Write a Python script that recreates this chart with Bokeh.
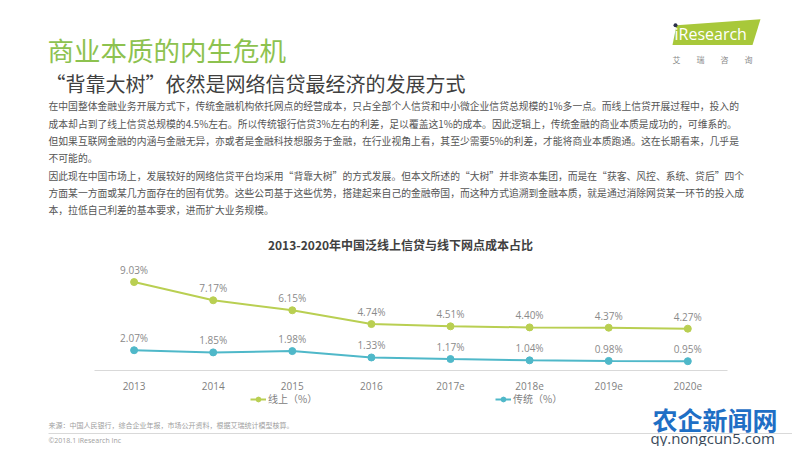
import numpy as np
from bokeh.plotting import figure
from bokeh.layouts import column
from bokeh.models import (Range1d, LabelSet, ColumnDataSource, Legend, LegendItem,
                          FixedTicker)
from bokeh.core.properties import value
from bokeh.embed import file_html
from bokeh.resources import INLINE

# ---------------- data ----------------
years = ["2013", "2014", "2015", "2016", "2017e", "2018e", "2019e", "2020e"]
online = [9.03, 7.17, 6.15, 4.74, 4.51, 4.40, 4.37, 4.27]
traditional = [2.07, 1.85, 1.98, 1.33, 1.17, 1.04, 0.98, 0.95]
online_labels = ["9.03%", "7.17%", "6.15%", "4.74%", "4.51%", "4.40%", "4.37%", "4.27%"]
traditional_labels = ["2.07%", "1.85%", "1.98%", "1.33%", "1.17%", "1.04%", "0.98%", "0.95%"]
series_names = ["线上（%）", "传统（%）"]

slide_title = "商业本质的内生危机"
slide_subtitle = "“背靠大树”依然是网络信贷最经济的发展方式"
chart_title = "2013-2020年中国泛线上信贷与线下网点成本占比"
paragraph = [
    "在中国整体金融业务开展方式下，传统金融机构依托网点的经营成本，只占全部个人信贷和中小微企业信贷总规模的1%多一点。而线上信贷开展过程中，投入的",
    "成本却占到了线上信贷总规模的4.5%左右。所以传统银行信贷3%左右的利差，足以覆盖这1%的成本。因此逻辑上，传统金融的商业本质是成功的，可维系的。",
    "但如果互联网金融的内涵与金融无异，亦或者是金融科技想服务于金融，在行业视角上看，其至少需要5%的利差，才能将商业本质跑通。这在长期看来，几乎是",
    "不可能的。",
    "因此现在中国市场上，发展较好的网络信贷平台均采用“背靠大树”的方式发展。但本文所述的“大树”并非资本集团，而是在“获客、风控、系统、贷后”四个",
    "方面某一方面或某几方面存在的固有优势。这些公司基于这些优势，搭建起来自己的金融帝国，而这种方式追溯到金融本质，就是通过消除网贷某一环节的投入成",
    "本，拉低自己利差的基本要求，进而扩大业务规模。",
]
source_text = "来源：中国人民银行，综合企业年报，市场公开资料，根据艾瑞统计模型核算。"
copyright_text = "©2018.1 iResearch Inc"
logo_text = "iResearch"
logo_cn = "艾　　瑞　　咨　　询"
watermark = "农企新闻网"
watermark_url = "qy.nongcun5.com"

GREEN = "#b9cf52"
BLUE = "#4fb8c9"
CJK = "Noto Sans CJK SC"
W = 792
AXIS_Y, CHART_END, PAGE_END = 374, 392, 446
X0, DX = 133.6, 79.1      # page x of the first category centre, px per category
PX_PER_PCT = 9.9

x_idx = list(range(len(years)))

# ---------------- main figure: header + chart ----------------
p = figure(width=W, height=CHART_END,
           x_range=Range1d(-X0 / DX, (W - X0) / DX),
           y_range=Range1d(0, AXIS_Y / PX_PER_PCT),
           output_backend="svg", toolbar_location=None,
           min_border_left=0, min_border_right=0, min_border_top=0,
           min_border_bottom=CHART_END - AXIS_Y)
p.extra_x_ranges = {"px": Range1d(0, W)}
p.extra_y_ranges = {"px": Range1d(AXIS_Y, 0)}
p.outline_line_color = None
p.xgrid.visible = False
p.ygrid.visible = False
p.yaxis.visible = False
ax = p.xaxis[0]
ax.ticker = FixedTicker(ticks=x_idx)
ax.major_label_overrides = {i: y for i, y in zip(x_idx, years)}
ax.bounds = (-0.5, len(years) - 0.5)
ax.axis_line_color = "#d9d9d9"
ax.major_tick_line_color = None
ax.minor_tick_line_color = None
ax.major_label_text_font_size = "10px"
ax.major_label_text_color = "#7f7f7f"
ax.major_label_text_font = "Open Sans"
ax.major_label_standoff = 5


def txt(f, x, y, s, size, color, font=CJK, bold=False, align="left", px=True):
    kw = dict(x_range_name="px", y_range_name="px") if px else {}
    f.text(x=[x], y=[y], text=[s], text_font=value(font),
           text_font_size=f"{size}px", text_color=color,
           text_font_style="bold" if bold else "normal",
           text_align=align, text_baseline="middle", **kw)


txt(p, 47, 50, slide_title, 26.5, "#8dc24f")
txt(p, 45, 84, slide_subtitle, 20, "#404040")
for i, line in enumerate(paragraph):
    txt(p, 48, 107 + 17.5 * i, line, 9.8, "#555555")
txt(p, 400, 247, chart_title, 12, "#404040", bold=True, align="center")
p.patch(x=[676, 760, 752, 672], y=[25, 19, 45, 45], fill_color="#a8c83a",
        line_color=None, x_range_name="px", y_range_name="px")
txt(p, 674, 34, logo_text, 16, "white", font="Open Sans")
p.scatter(x=[675], y=[25], size=4, fill_color="#2b2f4a", line_color=None,
          x_range_name="px", y_range_name="px")
txt(p, 672, 60, logo_cn, 8, "#8a8a8a")

src = ColumnDataSource(dict(x=x_idx, online=online, trad=traditional,
                            ol=online_labels, tl=traditional_labels))
p.line("x", "online", source=src, line_color=GREEN, line_width=2)
p.scatter("x", "online", source=src, size=7, fill_color=GREEN, line_color=GREEN)
p.line("x", "trad", source=src, line_color=BLUE, line_width=2)
p.scatter("x", "trad", source=src, size=7, fill_color=BLUE, line_color=BLUE)
for col, lab in (("online", "ol"), ("trad", "tl")):
    p.add_layout(LabelSet(x="x", y=col, text=lab, source=src, y_offset=12,
                          text_align="center", text_baseline="middle",
                          text_font_size="10px", text_color="#8a8a8a",
                          text_font=value("Open Sans")))

# ---------------- footer (legend + notes) ----------------
foot = figure(width=W, height=PAGE_END - CHART_END, x_range=Range1d(0, W),
              y_range=Range1d(PAGE_END, CHART_END), output_backend="svg",
              toolbar_location=None, min_border=0)
foot.axis.visible = False
foot.grid.visible = False
foot.outline_line_color = None

# legend keys: renderers with a single NaN point (draw nothing) carrying the styles
nan = np.array([np.nan])
kl1 = foot.line(x=nan, y=nan, line_color=GREEN, line_width=2)
kc1 = foot.scatter(x=nan, y=nan, size=7, fill_color=GREEN, line_color=GREEN)
kl2 = foot.line(x=nan, y=nan, line_color=BLUE, line_width=2)
kc2 = foot.scatter(x=nan, y=nan, size=7, fill_color=BLUE, line_color=BLUE)
legend = Legend(items=[LegendItem(label=series_names[0], renderers=[kl1, kc1]),
                       LegendItem(label=series_names[1], renderers=[kl2, kc2])],
                orientation="horizontal", location=(250, PAGE_END - 406),
                padding=0, margin=0, spacing=177, glyph_width=16, glyph_height=12,
                label_standoff=2, label_width=50, label_height=12,
                label_text_font_size="10px", label_text_color="#808080",
                label_text_font=CJK, border_line_color=None,
                background_fill_alpha=0)
foot.add_layout(legend, "center")

txt(foot, 48, 424, source_text, 7, "#a0a0a0", px=False)
foot.segment(x0=[48], y0=[433], x1=[W], y1=[433], line_color="#d9d9d9", line_width=1)
txt(foot, 48, 440, copyright_text, 7, "#a0a0a0", font="Open Sans", px=False)
txt(foot, 652, 418, watermark, 25, "#1f6fc5", bold=True, px=False)
txt(foot, 650, 437, watermark_url, 15, "#3a4a5a", font="Open Sans", px=False)

layout = column(p, foot, spacing=0)
open("out.html", "w").write(file_html(layout, INLINE))
